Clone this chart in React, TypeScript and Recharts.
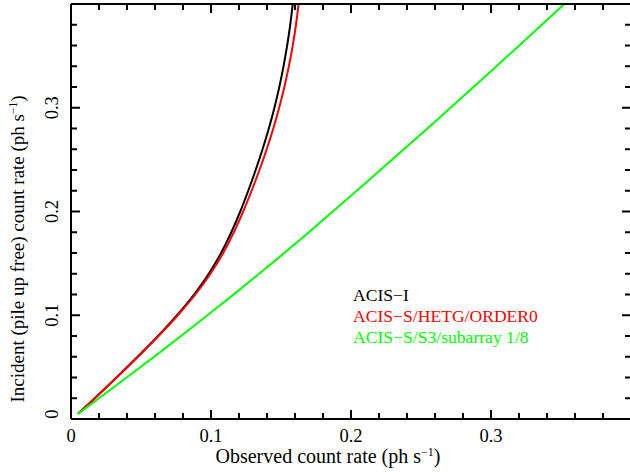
import { LineChart, Line, XAxis, YAxis } from "recharts";

const ACIS_I_OBS = [0.005, 0.017, 0.0325, 0.0476, 0.0622, 0.0757, 0.0879, 0.0984, 0.1072, 0.1145, 0.1209, 0.1266, 0.1319, 0.1368, 0.1413, 0.1453, 0.1488, 0.1518, 0.1544, 0.1566, 0.1584];
const ACIS_I_INC = [0.005, 0.02, 0.04, 0.06, 0.08, 0.1, 0.12, 0.14, 0.16, 0.18, 0.2, 0.22, 0.24, 0.26, 0.28, 0.3, 0.32, 0.34, 0.36, 0.38, 0.4];

const HETG_OBS = [0.005, 0.017, 0.0326, 0.0478, 0.0625, 0.0763, 0.0888, 0.0996, 0.1087, 0.1163, 0.123, 0.129, 0.1346, 0.1398, 0.1445, 0.1487, 0.1524, 0.1556, 0.1584, 0.1607, 0.1626];
const HETG_INC = [0.005, 0.02, 0.04, 0.06, 0.08, 0.1, 0.12, 0.14, 0.16, 0.18, 0.2, 0.22, 0.24, 0.26, 0.28, 0.3, 0.32, 0.34, 0.36, 0.38, 0.4];

const S3_OBS = [0.005, 0.02, 0.04, 0.06, 0.08, 0.1, 0.12, 0.14, 0.16, 0.18, 0.2, 0.22, 0.24, 0.26, 0.28, 0.3, 0.32, 0.34, 0.3523];
const S3_INC = [0.005, 0.02, 0.0402, 0.0606, 0.0814, 0.1026, 0.1242, 0.1462, 0.1686, 0.1918, 0.2152, 0.2388, 0.2626, 0.2866, 0.3108, 0.3352, 0.3598, 0.3846, 0.4];

const SERIES_NAMES = ["ACIS\u2212I", "ACIS\u2212S/HETG/ORDER0", "ACIS\u2212S/S3/subarray 1/8"];
const SERIES_COLORS = ["#000000", "#ff0000", "#00ff00"];

const AXIS_TICKS = [0, 0.02, 0.04, 0.06, 0.08, 0.1, 0.12, 0.14, 0.16, 0.18, 0.2, 0.22, 0.24, 0.26, 0.28, 0.3, 0.32, 0.34, 0.36, 0.38, 0.4];
const MAJOR_TICKS = [0, 0.1, 0.2, 0.3, 0.4];
const TICK_LABELS = [0, 0.1, 0.2, 0.3];

const FONT = "'Liberation Serif', 'Times New Roman', serif";

const zip = (xs: number[], ys: number[]) => xs.map((x, i) => ({ x, y: ys[i] }));
const SERIES_DATA = [zip(ACIS_I_OBS, ACIS_I_INC), zip(HETG_OBS, HETG_INC), zip(S3_OBS, S3_INC)];

const near = (list: number[], v: number) => list.some((m) => Math.abs(m - v) < 1e-9);
const fmt = (v: number) => (v === 0 ? "0" : v.toFixed(1));

function AxisTick(props: any) {
  const { x, y, payload, side } = props;
  const v = payload.value;
  const len = near(MAJOR_TICKS, v) ? 9 : 6;
  const labeled = near(TICK_LABELS, v);
  if (side === "bottom") {
    return (
      <g>
        <line x1={x} y1={y} x2={x} y2={y - len} stroke="#000" strokeWidth={2} />
        {labeled && (
          <text x={x} y={y + 23} textAnchor="middle" fontSize={18.5} fontFamily={FONT} fill="#000">
            {fmt(v)}
          </text>
        )}
      </g>
    );
  }
  if (side === "top") {
    return <line x1={x} y1={y} x2={x} y2={y + len} stroke="#000" strokeWidth={2} />;
  }
  if (side === "right") {
    return <line x1={x} y1={y} x2={x - len} y2={y} stroke="#000" strokeWidth={2} />;
  }
  const ly = v === 0 ? y - 5 : y;
  const lx = x - 13;
  return (
    <g>
      <line x1={x} y1={y} x2={x + len} y2={y} stroke="#000" strokeWidth={2} />
      {labeled && (
        <text
          x={lx}
          y={ly}
          transform={`rotate(-90 ${lx} ${ly})`}
          textAnchor="middle"
          fontSize={18.5}
          fontFamily={FONT}
          fill="#000"
        >
          {fmt(v)}
        </text>
      )}
    </g>
  );
}

const XTitle = () => (
  <text x={328} y={463} textAnchor="middle" fontSize={20} fontFamily={FONT} fill="#000">
    Observed count rate (ph s
    <tspan dy={-7} fontSize={12}>
      {"\u22121"}
    </tspan>
    <tspan dy={7}>)</tspan>
  </text>
);

const YTitle = () => (
  <text
    x={24}
    y={249}
    transform="rotate(-90 24 249)"
    textAnchor="middle"
    fontSize={19}
    fontFamily={FONT}
    fill="#000"
  >
    Incident (pile up free) count rate (ph s
    <tspan dy={-7} fontSize={11.5}>
      {"\u22121"}
    </tspan>
    <tspan dy={7}>)</tspan>
  </text>
);

const axisLine = { stroke: "#000", strokeWidth: 2 };

export default function App() {
  return (
    <div
      style={{
        position: "absolute",
        left: 0,
        top: 0,
        width: 630,
        height: 472,
        overflow: "hidden",
        background: "#fff",
      }}
    >
      <LineChart width={640} height={472} margin={{ top: 3, right: 8, bottom: 52, left: 70 }}>
        <XAxis
          xAxisId="b"
          dataKey="x"
          type="number"
          domain={[0, 0.4]}
          ticks={AXIS_TICKS}
          interval={0}
          height={1}
          tickSize={0}
          tickMargin={0}
          tickLine={false}
          axisLine={axisLine}
          tick={(p: any) => <AxisTick {...p} side="bottom" />}
          allowDataOverflow
          label={XTitle}
        />
        <XAxis
          xAxisId="t"
          orientation="top"
          dataKey="x"
          type="number"
          domain={[0, 0.4]}
          ticks={AXIS_TICKS}
          interval={0}
          height={1}
          tickSize={0}
          tickMargin={0}
          tickLine={false}
          axisLine={axisLine}
          tick={(p: any) => <AxisTick {...p} side="top" />}
          allowDataOverflow
        />
        <YAxis
          yAxisId="l"
          type="number"
          domain={[0, 0.4]}
          ticks={AXIS_TICKS}
          interval={0}
          width={1}
          tickSize={0}
          tickMargin={0}
          tickLine={false}
          axisLine={axisLine}
          tick={(p: any) => <AxisTick {...p} side="left" />}
          allowDataOverflow
          label={YTitle}
        />
        <YAxis
          yAxisId="r"
          orientation="right"
          type="number"
          domain={[0, 0.4]}
          ticks={AXIS_TICKS}
          interval={0}
          width={1}
          tickSize={0}
          tickMargin={0}
          tickLine={false}
          axisLine={axisLine}
          tick={(p: any) => <AxisTick {...p} side="right" />}
          allowDataOverflow
        />
        {SERIES_DATA.map((d, i) => (
          <Line
            key={SERIES_NAMES[i]}
            xAxisId="b"
            yAxisId="l"
            data={d}
            dataKey="y"
            type="monotone"
            stroke={SERIES_COLORS[i]}
            strokeWidth={2}
            dot={false}
            activeDot={false}
            isAnimationActive={false}
          />
        ))}
        <Line
          xAxisId="t"
          yAxisId="r"
          data={SERIES_DATA[0]}
          dataKey="y"
          stroke="none"
          dot={false}
          activeDot={false}
          isAnimationActive={false}
          legendType="none"
        />
      </LineChart>
      <div
        style={{
          position: "absolute",
          left: 353,
          top: 284.6,
          fontFamily: FONT,
          fontSize: 17.6,
          lineHeight: "21px",
          whiteSpace: "nowrap",
        }}
      >
        {SERIES_NAMES.map((n, i) => (
          <div key={n} style={{ color: SERIES_COLORS[i] }}>
            {n}
          </div>
        ))}
      </div>
    </div>
  );
}
